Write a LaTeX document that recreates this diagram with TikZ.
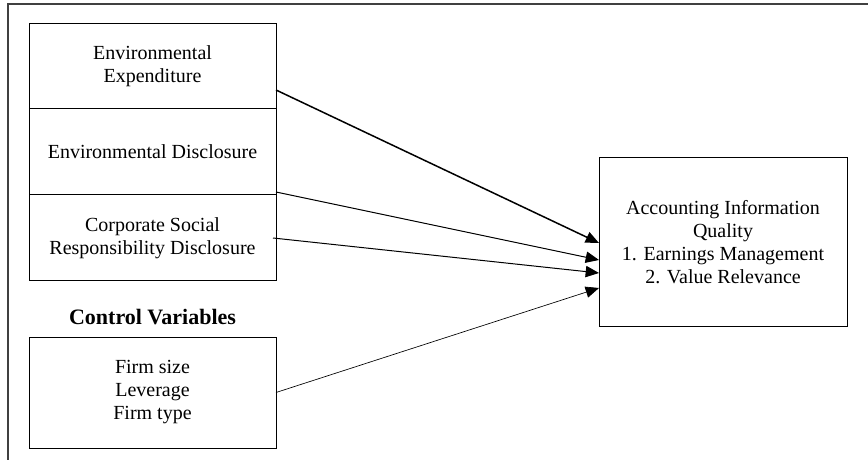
\documentclass[tikz,border=0pt]{standalone}
\usepackage{fontspec}
\setmainfont{Liberation Serif}
\usetikzlibrary{arrows.meta,positioning,calc}

\begin{document}
\begin{tikzpicture}[x=0.6pt,y=-0.6pt]
\tikzstyle{every node}=[font=\fontsize{12}{13.8}\selectfont]
\tikzstyle{box}=[draw,line width=0.6pt,outer sep=0pt,align=center,minimum width=148.2pt,inner sep=2pt]
\tikzstyle{link}=[-{Triangle[length=8pt,width=6.8pt]},line width=0.6pt]

\useasboundingbox (0,0) rectangle (868,460);

% Frame
\draw[line width=1pt,black!75] (8,460) -- (8,4) -- (868,4);

% Variable boxes
\node[box,minimum height=51pt] (expend) at (152.5,66.5) {Environmental\\Expenditure};
\node[box,minimum height=51.6pt,below=0pt of expend] (disclo) {Environmental Disclosure};
\node[box,minimum height=51.6pt,below=0pt of disclo] (csr) {Corporate Social\\Responsibility Disclosure};

% Control variables
\node[font=\fontsize{13.2}{15}\selectfont\bfseries] (ctrl) at (152.5,317) {Control Variables};
\node[box,minimum height=66.6pt] (firm) at (152.5,392.5) {Firm size\\Leverage\\Firm type};

% Dependent variable
\node[box,minimum width=148.8pt,minimum height=101.4pt] (aiq) at (723,242.5) {Accounting Information\\Quality\\1. Earnings Management\\2. Value Relevance};

% Arrows
\draw[link,line width=0.9pt] ($(expend.east)+(0,23.5)$) -- ($(aiq.west)+(0,0.5)$);
\draw[link] ($(disclo.east)+(0,40)$) -- ($(aiq.west)+(0,17.5)$);
\draw[link] ($(csr.east)+(-3,0)$) -- ($(aiq.west)+(0,30.5)$);
\draw[link,line width=0.4pt] (firm.east) -- ($(aiq.west)+(0,45.5)$);

\end{tikzpicture}
\end{document}
